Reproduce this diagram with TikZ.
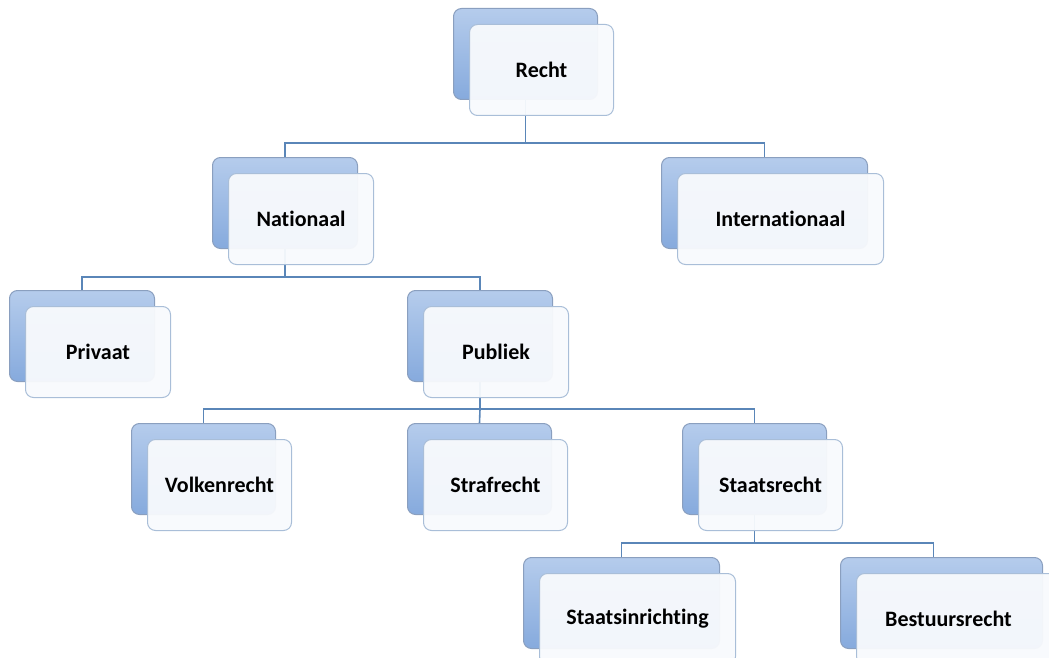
\documentclass[tikz,border=0pt]{standalone}
\usepackage{fontspec}
\setmainfont{Carlito}[Ligatures=NoCommon]
\usetikzlibrary{calc,backgrounds}
\definecolor{backtop}{HTML}{B5CCEC}
\definecolor{backbot}{HTML}{86AADD}
\definecolor{backline}{HTML}{8A9FBF}
\definecolor{frontfill}{HTML}{F8FAFD}
\definecolor{frontline}{HTML}{A9BED8}
\definecolor{connc}{HTML}{5A86B8}
\tikzset{
  backbox/.style={draw=backline, line width=1pt, rounded corners=8, top color=backtop, bottom color=backbot, minimum height=91, inner sep=0pt, anchor=north west},
  frontbox/.style={draw=frontline, line width=1pt, rounded corners=8, fill=frontfill, fill opacity=0.95, text opacity=1, minimum height=91, inner sep=0pt, anchor=north west, font=\bfseries\fontsize{22}{24}\selectfont},
  connline/.style={draw=connc, line width=1.6pt}
}
\newcommand\boxpair[5]{%
  \node[backbox, minimum width=#4] (#1) at (#2,#3) {};
  \node[frontbox, minimum width=#4] (#1F) at (#2+16,#3+16) {#5};
}
\begin{document}
\begin{tikzpicture}[x=1pt,y=-1pt]
\useasboundingbox (0,0) rectangle (1049,658);
\boxpair{recht}{453}{8}{144}{Recht}
\boxpair{nat}{212}{157}{145}{Nationaal}
\boxpair{int}{661}{157}{206}{Internationaal}
\boxpair{priv}{9}{290}{145}{Privaat}
\boxpair{pub}{407}{290}{145}{Publiek}
\boxpair{volk}{131}{423}{144}{Volkenrecht}
\boxpair{straf}{407}{423}{144}{Strafrecht}
\boxpair{staats}{682}{423}{144}{Staatsrecht}
\boxpair{inr}{523}{557}{196}{Staatsinrichting}
\boxpair{best}{840}{557}{202}{Bestuursrecht\hspace*{18pt}}
\coordinate (busA) at (0,143);
\coordinate (busB) at (0,277);
\coordinate (busC) at (0,409);
\coordinate (busD) at (0,543);
\coordinate (bestin) at ($(best.north)+(-8,0)$);
\begin{scope}[on background layer]
  \draw[connline] (recht.center) -- (recht.center |- busA) -| (nat.north);
  \draw[connline] (recht.center |- busA) -| (int.north);
  \draw[connline] (nat.center) -- (nat.center |- busB) -| (priv.north);
  \draw[connline] (nat.center |- busB) -| (pub.north);
  \draw[connline] (pub.center) -- (pub.center |- busC) -| (volk.north);
  \draw[connline] (pub.center |- busC) -| (staats.north);
  \draw[connline] (pub.center |- busC) -- (straf.north);
  \draw[connline] (staats.center) -- (staats.center |- busD) -| (inr.north);
  \draw[connline] (staats.center |- busD) -| (bestin);
\end{scope}
\end{tikzpicture}
\end{document}
